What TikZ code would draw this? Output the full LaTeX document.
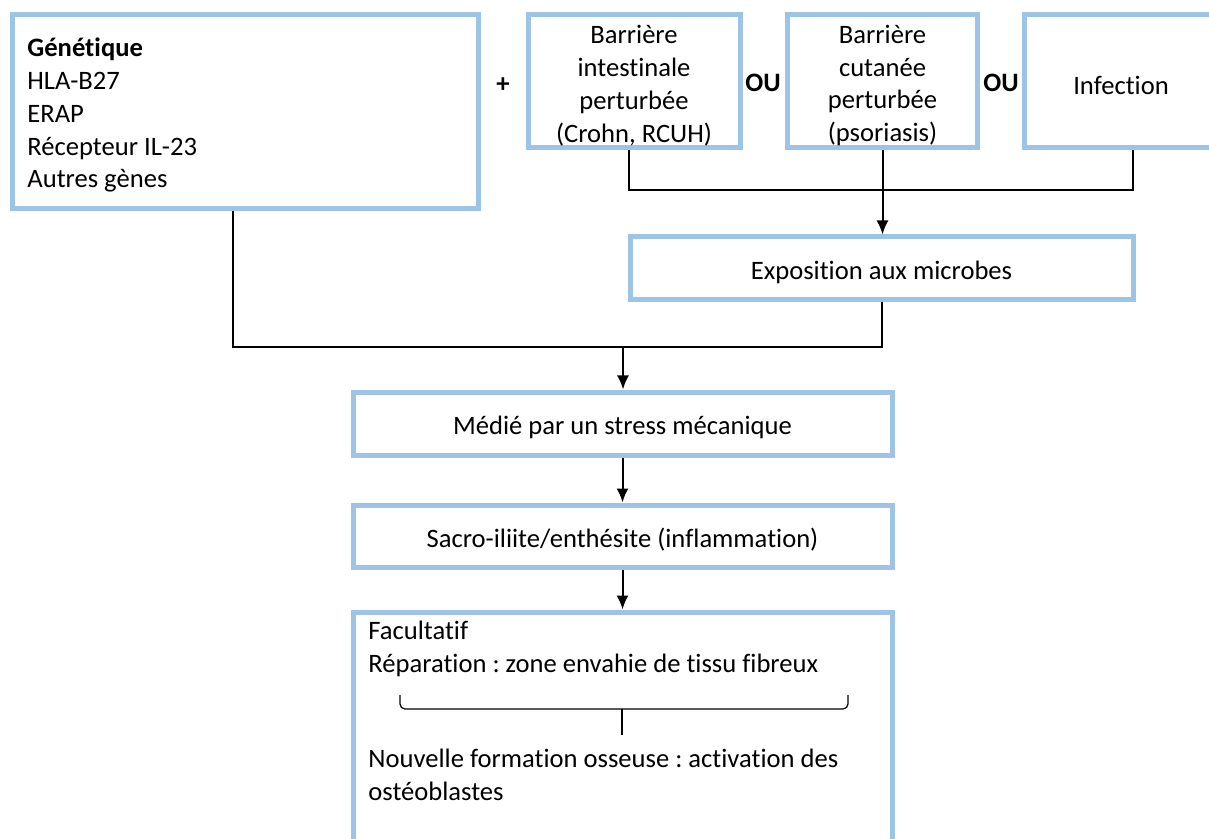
\documentclass[tikz,border=0pt]{standalone}
\usepackage{fontspec}
\setmainfont{Carlito}[Ligatures=NoCommon]
\frenchspacing
\usetikzlibrary{arrows.meta,positioning}
\definecolor{boxblue}{HTML}{9DC3E6}
\tikzset{
  box/.style={draw=boxblue, line width=2.5pt, fill=white, inner sep=0pt},
  txt/.style={inner sep=0pt, align=left, font=\fontsize{13.3}{16.4}\selectfont},
  lbl/.style={inner sep=0pt, align=center, yshift=-2pt, font=\fontsize{13.3}{16.4}\selectfont},
  link/.style={black, line width=1pt},
  arr/.style={link, -{Latex[length=7pt,width=6pt]}},
}

\begin{document}
\begin{tikzpicture}[x=0.5pt,y=-0.5pt]
\clip (0,0) rectangle (1209,839);
% =============================================
% - top row.
\node[box, minimum width=233pt, minimum height=97pt] (gen) at (245,112) {};
\node[txt, anchor=base west] (gentxt) at (27,188)
  {\textbf{Génétique}\\HLA-B27\\ERAP\\Récepteur IL-23\\Autres gènes};
\node[box, minimum width=106pt, minimum height=66.5pt,
  label={[lbl]center:Barrière\\intestinale\\perturbée\\(Crohn, RCUH)}] (intest) at (634,81.5) {};
\node[box, minimum width=95pt, minimum height=66.5pt,
  label={[lbl]center:Barrière\\cutanée\\perturbée\\(psoriasis)}] (cut) at (882.5,81.5) {};
\node[box, minimum width=97pt, minimum height=66.5pt,
  label={[lbl]center:Infection}] (infect) at (1121,81.5) {};
\node[txt] (plus) at (503,85) {\textbf{+}};
\node[txt] (ou1) at (763,83) {\textbf{OU}};
\node[txt] (ou2) at (1001,83) {\textbf{OU}};
%
% - chain.
\node[box, minimum width=251.5pt, minimum height=31.5pt,
  label={[lbl]center:Exposition aux microbes}] (expo) at (881.5,268.5) {};
\node[box, minimum width=269.5pt, minimum height=31.5pt,
  label={[lbl]center:Médié par un stress mécanique}] (medie) at (622.5,423.5) {};
\node[box, minimum width=269.5pt, minimum height=31pt,
  label={[lbl]center:Sacro-iliite/enthésite (inflammation)}] (sacro) at (622.5,536) {};
\node[box, minimum width=269.5pt, minimum height=134pt] (facul) at (622.5,746) {};
\node[txt, anchor=base west] (fac1) at (368,672) {Facultatif\\Réparation : zone envahie de tissu fibreux};
\node[txt, anchor=base west] (fac2) at (368,800) {Nouvelle formation osseuse : activation des\\ostéoblastes};
%
% - connectors.
\coordinate (jtop) at (882,190);
\coordinate (jmid) at (623,347);
\draw[link] ([xshift=-2.5pt]intest.south) |- (jtop) -| ([xshift=6pt]infect.south);
\draw[arr] (cut.south) -- (cut.south |- expo.north);
\draw[link] ([xshift=-6pt]gen.south) |- (jmid) -| (expo.south);
\draw[arr] (jmid) -- (jmid |- medie.north);
\draw[arr] (medie.south) -- (sacro.north);
\draw[arr] (sacro.south) -- (facul.north);
%
% - brace.
\coordinate (brL) at (400,695);
\coordinate (brR) at (848,695);
\coordinate (brM) at (622,709);
\coordinate (brTip) at (622,735);
\draw[line width=0.6pt, rounded corners=2.5pt] (brL) |- (brM) -| (brR);
\draw[line width=0.6pt] (brM) -- (brTip);
% =============================================
\end{tikzpicture}
\end{document}
